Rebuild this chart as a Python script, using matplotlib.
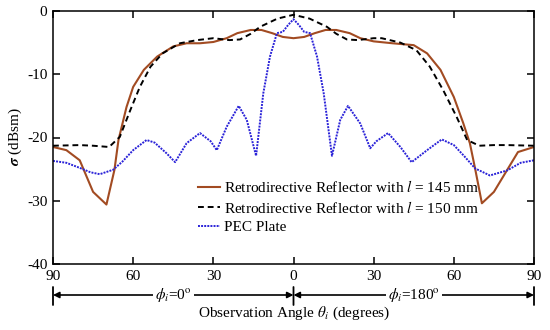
import matplotlib
matplotlib.use("Agg")
import matplotlib.pyplot as plt

# observation angle (signed: negative = phi 0 side, positive = phi 180 side)
theta_145 = [-90, -85, -80, -75, -70, -67, -65.5, -62.5, -60, -56, -51, -45, -40, -35,
             -30, -25, -21, -16, -12, -8, -4, 0, 4, 8, 12, 16, 21, 25, 30, 37, 45, 50,
             55, 60, 63.5, 66, 68, 70.5, 75, 80, 84, 90]
rcs_145 = [-21.5, -22, -23.6, -28.6, -30.6, -25.1, -20.4, -15.2, -12, -9.3, -7.2, -5.6,
           -5.1, -5.1, -4.9, -4.3, -3.5, -3.0, -3.0, -3.5, -4.1, -4.3, -4.1, -3.5, -3.0,
           -3.0, -3.5, -4.3, -4.8, -5.1, -5.4, -6.7, -9.3, -13.6, -17.7, -20.9, -25,
           -30.4, -28.6, -25.1, -22.3, -21.5]

theta_150 = [-90, -80, -75, -69, -65, -61, -57.5, -53.5, -49, -42.5, -36, -30, -24, -20,
             -16, -12.5, -6, 0, 6, 12.5, 16, 20, 24, 30, 33, 40, 46, 51, 56, 61, 65,
             69.5, 75, 80, 90]
rcs_150 = [-21.3, -21.2, -21.3, -21.5, -19.9, -15.6, -12, -8.8, -6.7, -5.1, -4.6, -4.3,
           -4.6, -4.5, -3.6, -2.5, -1.2, -0.6, -1.2, -2.5, -3.6, -4.5, -4.6, -4.3, -4.3,
           -5, -6.2, -8.8, -12.5, -16.7, -20.4, -21.3, -21.2, -21.2, -21.3]

theta_pec = [-90, -85, -80, -76, -72.5, -67.5, -64, -60, -55, -52, -47.5, -44.3, -40,
             -35, -31, -28.7, -25, -20.5, -17.5, -14, -11.3, -8.8, -6.2, -4, -2, 0, 2,
             4, 6.2, 8.8, 11.3, 14.4, 17.5, 20.4, 25, 28.7, 31, 35.4, 40, 44.2, 50,
             55.5, 60, 64, 68, 73.5, 80, 85, 90]
rcs_pec = [-23.7, -24, -24.8, -25.5, -25.8, -25.1, -23.8, -22, -20.4, -20.8, -22.5,
           -23.9, -20.9, -19.3, -20.6, -22, -18.3, -15, -17.2, -22.9, -13, -7.2, -3.5,
           -3.3, -2.2, -1.3, -2.2, -3.3, -3.5, -7.2, -13, -22.9, -17.2, -15, -17.8,
           -21.7, -20.6, -19.3, -21.5, -23.9, -22, -20.3, -21.2, -23, -24.9, -26,
           -25.2, -24, -23.6]

x_ticks = [-90, -60, -30, 0, 30, 60, 90]
x_ticklabels = ["90", "60", "30", "0", "30", "60", "90"]
y_ticks = [0, -10, -20, -30, -40]

plt.rcParams["font.family"] = "Liberation Serif"
plt.rcParams["mathtext.fontset"] = "stix"
plt.rcParams["axes.unicode_minus"] = False

fs = 11

fig = plt.figure(figsize=(5.5, 3.3), dpi=100)
ax = fig.add_axes([53 / 550, 1 - 264 / 330, (534 - 53) / 550, (264 - 11) / 330])

ax.plot(theta_145, rcs_145, color="#a24b22", lw=1.5,
        label="Retrodirective Reflector with $l$ = 145 mm")
ax.plot(theta_150, rcs_150, color="black", lw=1.4, ls=(0, (3, 2)),
        label="Retrodirective Reflector with $l$ = 150 mm")
ax.plot(theta_pec, rcs_pec, color="#2a22d8", lw=1.4, ls=(0, (1, 0.6)),
        label="PEC Plate")

ax.set_xlim(-90, 90)
ax.set_ylim(-40, 0)
ax.set_xticks(x_ticks)
ax.set_xticklabels(x_ticklabels)
ax.set_yticks(y_ticks)
ax.tick_params(direction="in", top=True, right=True, length=5, width=1.1,
               labelsize=fs, pad=4)
for s in ax.spines.values():
    s.set_linewidth(1.1)

fig.text(15 / 550, 1 - 137 / 330, r"$\boldsymbol{\sigma}$ (dBsm)", rotation=90,
         ha="center", va="center", fontsize=fs)
fig.text(294 / 550, 1 - 313 / 330, r"Observation Angle $\boldsymbol{\theta_i}$ (degrees)",
         ha="center", va="center", fontsize=fs)

leg = ax.legend(loc="upper left", bbox_to_anchor=(198 / 550, 1 - 179 / 330),
                bbox_transform=fig.transFigure, frameon=False, fontsize=fs,
                handlelength=1.45, handletextpad=0.25, labelspacing=0.3,
                borderpad=0, borderaxespad=0)

# bottom annotation: phi_i ranges
y_arr = 1 - 295 / 330
for xa, xb, txt in [(-90, 0, r"$\boldsymbol{\phi_i}$=0$^\mathrm{o}$"),
                    (0, 90, r"$\boldsymbol{\phi_i}$=180$^\mathrm{o}$")]:
    ax.annotate("", xy=(xa, y_arr), xytext=(xb, y_arr),
                xycoords=("data", "figure fraction"),
                textcoords=("data", "figure fraction"),
                arrowprops=dict(arrowstyle="<|-|>", color="black", lw=1.2,
                                shrinkA=0, shrinkB=0, mutation_scale=9))
    ax.annotate(txt, xy=((xa + xb) / 2, y_arr), xycoords=("data", "figure fraction"),
                ha="center", va="center", fontsize=fs,
                bbox=dict(facecolor="white", edgecolor="none", pad=1.5))
for xv in x_ticks[::3]:
    ax.annotate("", xy=(xv, 1 - 287 / 330), xytext=(xv, 1 - 305 / 330),
                xycoords=("data", "figure fraction"),
                textcoords=("data", "figure fraction"),
                arrowprops=dict(arrowstyle="-", color="black", lw=1.3,
                                shrinkA=0, shrinkB=0))

fig.savefig("out.png", dpi=100)
